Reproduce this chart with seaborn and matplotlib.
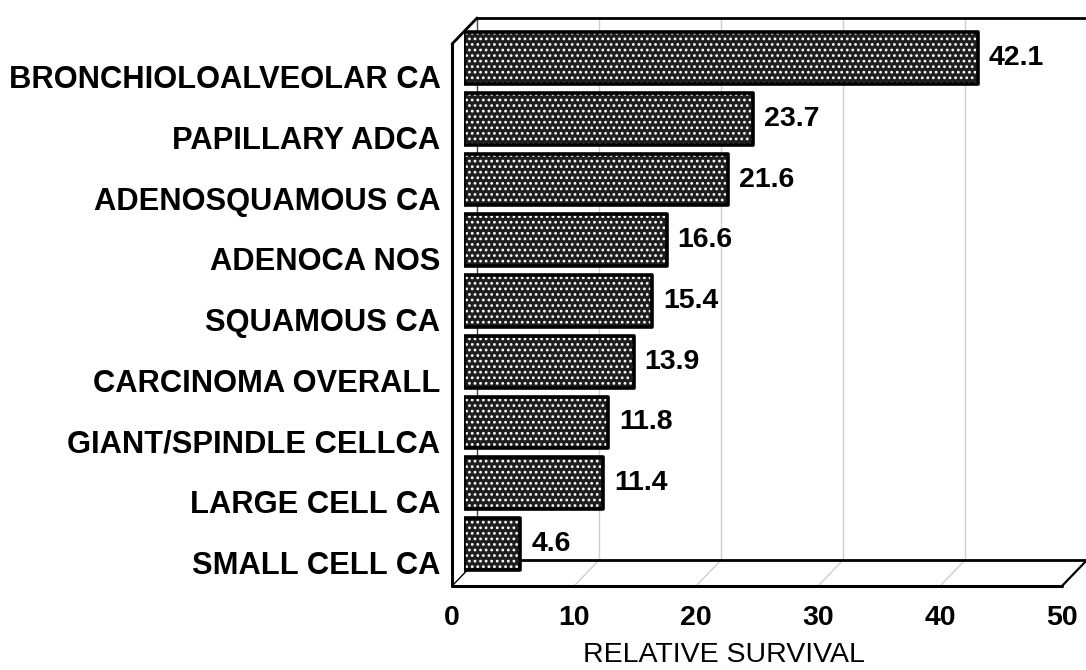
import matplotlib
matplotlib.use("Agg")
import matplotlib.pyplot as plt
import pandas as pd
import seaborn as sns

# Five-year relative survival by histologic type
categories = [
    "BRONCHIOLOALVEOLAR CA",
    "PAPILLARY ADCA",
    "ADENOSQUAMOUS CA",
    "ADENOCA NOS",
    "SQUAMOUS CA",
    "CARCINOMA OVERALL",
    "GIANT/SPINDLE CELLCA",
    "LARGE CELL CA",
    "SMALL CELL CA",
]
survival = [42.1, 23.7, 21.6, 16.6, 15.4, 13.9, 11.8, 11.4, 4.6]
x_ticks = [0, 10, 20, 30, 40, 50]
x_label = "RELATIVE SURVIVAL"

sns.set_theme(style="white")
plt.rcParams["font.family"] = ["Liberation Sans", "DejaVu Sans"]
plt.rcParams["hatch.linewidth"] = 1.2

W, H, DPI = 1086, 670, 100
fig = plt.figure(figsize=(W / DPI, H / DPI), dpi=DPI)
fig.patch.set_facecolor("white")


def px_box(left, top, width, height):
    return [left / W, 1 - (top + height) / H, width / W, height / H]


# middle depth plane of the box: bars live here
ax = fig.add_axes(px_box(464, 30, 610, 542))
ax.patch.set_alpha(0)

df = pd.DataFrame({"type": categories, "rs": survival})
sns.barplot(data=df, x="rs", y="type", orient="h", width=0.85,
            color="#1f1f1f", edgecolor="white", linewidth=0,
            hatch="...", ax=ax, zorder=3)
sns.barplot(data=df, x="rs", y="type", orient="h", width=0.85,
            fill=False, color="black", linewidth=2.6, ax=ax, zorder=4)
for c in ax.containers:
    for p in c:
        p.set_joinstyle("round")

x_min, x_max = x_ticks[0], x_ticks[-1]
y_top, y_floor = -0.461, 8.461
ax.set_xlim(x_min, x_max)
ax.set_ylim(y_floor, y_top)
ax.set_axis_off()

ax.bar_label(ax.containers[1], labels=[f"{v:.1f}" for v in survival],
             padding=8, fontsize=20.5, fontweight="bold", color="black")

# pseudo-3D box: back wall shifted up/right, front edge down/left
dxb, dyb = 1.07, 0.198
dxf, dyf = 0.98, 0.23
bx0, bx1 = x_min + dxb, x_max + dxb
fx0, fx1 = x_min - dxf, x_max - dxf
by_top, by_floor = y_top - dyb, y_floor - dyb
fy_top, fy_floor = y_top + dyf, y_floor + dyf

line_kw = dict(clip_on=False, solid_capstyle="round")
grid_c = "#cfcfcf"
for v in x_ticks[1:-1]:
    ax.plot([v + dxb, v + dxb], [by_floor, by_top], color=grid_c, lw=1.0, zorder=1, **line_kw)
    ax.plot([v - dxf, v + dxb], [fy_floor, by_floor], color=grid_c, lw=1.0, zorder=1, **line_kw)

ax.plot([bx0, bx0], [by_floor, by_top], color="#444444", lw=1.0, zorder=1, **line_kw)
ax.plot([bx0, bx1], [by_top, by_top], color="black", lw=2.0, zorder=2, **line_kw)
ax.plot([bx0, bx1], [by_floor, by_floor], color="black", lw=2.0, zorder=2, **line_kw)
ax.plot([fx0, fx0], [fy_top, fy_floor], color="black", lw=2.2, zorder=2, **line_kw)
ax.plot([fx0, bx0], [fy_top, by_top], color="black", lw=2.0, zorder=2, **line_kw)
ax.plot([fx0, fx1], [fy_floor, fy_floor], color="black", lw=2.2, zorder=2, **line_kw)
ax.plot([fx1, bx1], [fy_floor, by_floor], color="black", lw=1.6, zorder=2, **line_kw)
ax.plot([fx0, bx0], [fy_floor, by_floor], color="black", lw=1.0, zorder=2, **line_kw)

# category labels
for i, c in enumerate(categories):
    ax.annotate(c, xy=(x_min, i), xytext=(-17, -16), textcoords="offset points",
                ha="right", va="center", fontsize=22.2, fontweight="bold",
                color="black", annotation_clip=False)

# value axis ticks along the front edge
for v in x_ticks:
    ax.annotate(f"{v}", xy=(v - dxf, fy_floor), xytext=(0, -14), textcoords="offset points",
                ha="center", va="top", fontsize=20.5, fontweight="bold",
                color="black", annotation_clip=False)

fig.text(724 / W, 1 - 655 / H, x_label, ha="center", va="center",
         fontsize=20.5, color="black")

ax.set_xlim(x_min, x_max)
ax.set_ylim(y_floor, y_top)
fig.savefig("out.png", dpi=DPI, facecolor="white")
